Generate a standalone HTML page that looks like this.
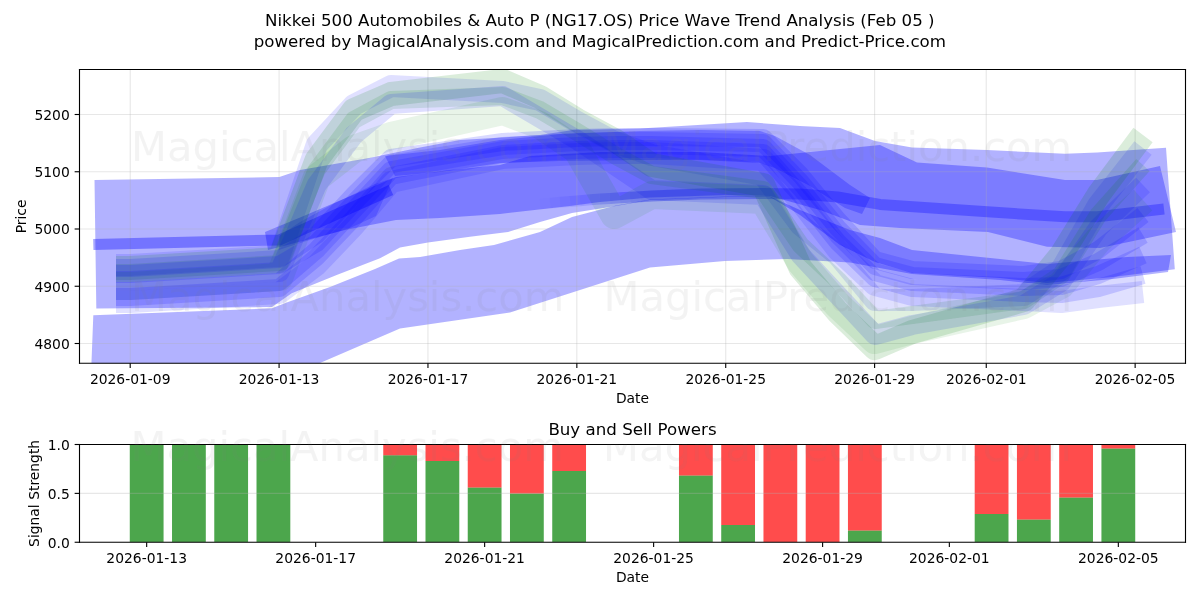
<!DOCTYPE html>
<html><head><meta charset="utf-8"><style>html,body{margin:0;padding:0;background:#fff;}svg{display:block;}</style></head><body>
<svg width="1200" height="600" viewBox="0 0 864 432" version="1.1">
<defs>
<style type="text/css">*{stroke-linejoin: round; stroke-linecap: butt}</style>
</defs>
<g id="figure_1">
<g id="patch_1">
<path d="M 0 432 
L 864 432 
L 864 0 
L 0 0 
z
" style="fill: #ffffff"/>
</g>
<g id="axes_1">
<g id="patch_2">
<path d="M 57.24 261.54 
L 853.56 261.54 
L 853.56 50.04 
L 57.24 50.04 
z
" style="fill: #ffffff"/>
</g>
<g id="patch_3">
<path d="M 68.040783 129.672 
L 201.168814 127.44 
L 216.000817 122.4 
L 265.680829 113.76 
L 302.400837 106.2 
L 331.200844 100.8 
L 388.800857 97.2 
L 412.560863 93.6 
L 460.800874 92.52 
L 537.840892 87.84 
L 576.000901 90.72 
L 604.800907 92.16 
L 630.000913 101.52 
L 656.640919 106.2 
L 710.640932 108 
L 766.800945 110.7 
L 789.84095 109.8 
L 839.520962 106.344 
L 845.856963 193.896 
L 801.360953 199.44 
L 753.840942 203.76 
L 720.000934 200.16 
L 656.640919 196.56 
L 630.000913 188.64 
L 604.800907 176.4 
L 576.000901 154.8 
L 554.400896 141.84 
L 522.000888 141.84 
L 468.000876 144 
L 443.52087 148.32 
L 411.840863 153.36 
L 388.800857 159.84 
L 365.760852 167.04 
L 338.400846 170.424 
L 308.160839 174.6 
L 288.000834 178.2 
L 273.600831 185.976 
L 242.424823 198 
L 210.024816 211.176 
L 195.840813 221.04 
L 69.336783 222.12 
z
" clip-path="url(#pc2d2b2b4d8)" style="fill: #0000ff; opacity: 0.3"/>
</g>
<g id="patch_4">
<path d="M 67.176783 227.016 
L 195.840813 221.976 
L 206.424815 217.8 
L 237.600822 206.64 
L 270.00083 193.68 
L 287.280834 186.12 
L 302.400837 185.04 
L 331.200844 180 
L 355.68085 176.4 
L 388.800857 167.04 
L 411.840863 156.24 
L 443.52087 147.96 
L 468.000876 143.64 
L 522.000888 141.48 
L 554.400896 141.48 
L 576.000901 151.2 
L 612.000909 165.6 
L 633.600914 171.36 
L 656.640919 180 
L 720.000934 186.48 
L 753.840942 190.08 
L 811.440955 185.04 
L 843.120962 183.6 
L 840.960962 195.84 
L 801.360953 200.88 
L 753.840942 205.2 
L 720.000934 201.6 
L 656.640919 197.28 
L 612.000909 189 
L 566.640898 186.48 
L 522.000888 187.92 
L 468.000876 192.6 
L 417.600864 208.8 
L 367.200852 225 
L 288.000834 236.52 
L 230.400821 261.36 
L 216.000817 273.6 
L 64.800782 288 
z
" clip-path="url(#pc2d2b2b4d8)" style="fill: #0000ff; opacity: 0.3"/>
</g>
<g id="patch_5">
<path d="M 190.800811 167.04 
L 220.320818 154.8 
L 259.200827 138.24 
L 285.120833 127.44 
L 324.000842 122.4 
L 360.000851 118.8 
L 381.600856 112.32 
L 432.000867 109.44 
L 504.000884 109.44 
L 554.400896 112.32 
L 597.600906 108 
L 633.600914 104.4 
L 660.24092 117 
L 710.640932 120.6 
L 766.800945 129.6 
L 789.84095 129.6 
L 835.200961 119.52 
L 846.720963 167.04 
L 792.000951 178.56 
L 753.840942 177.624 
L 711.360932 167.04 
L 648.000917 164.16 
L 619.200911 162 
L 590.400904 151.2 
L 554.400896 141.12 
L 522.000888 140.4 
L 468.000876 142.2 
L 432.000867 145.44 
L 410.400862 148.32 
L 360.000851 154.08 
L 316.800841 156.96 
L 285.120833 158.4 
L 248.400825 165.6 
L 192.960812 180 
z
" clip-path="url(#pc2d2b2b4d8)" style="fill: #0000ff; opacity: 0.3"/>
</g>
<g id="patch_6">
<path d="M 200.880814 169.92 
L 216.000817 159.84 
L 239.760823 146.88 
L 270.00083 132.48 
L 282.960833 128.16 
L 270.72083 155.52 
L 252.000826 164.16 
L 216.000817 174.96 
L 200.880814 180 
z
" clip-path="url(#pc2d2b2b4d8)" style="fill: #0000ff; opacity: 0.2"/>
</g>
<g id="patch_7">
<path d="M 277.200831 112.32 
L 316.800841 108 
L 360.000851 100.8 
L 403.200861 96.48 
L 460.800874 94.32 
L 504.000884 93.6 
L 547.200894 94.32 
L 558.000896 97.92 
L 583.200902 111.6 
L 612.000909 133.2 
L 626.400912 142.56 
L 620.640911 154.08 
L 608.400908 149.76 
L 583.200902 133.92 
L 558.000896 120.96 
L 547.200894 117.36 
L 504.000884 115.2 
L 460.800874 115.2 
L 403.200861 115.92 
L 360.000851 117.36 
L 316.800841 123.84 
L 284.400833 126.72 
z
" clip-path="url(#pc2d2b2b4d8)" style="fill: #0000ff; opacity: 0.25"/>
</g>
<g id="matplotlib.axis_1">
<g id="xtick_1">
<g id="line2d_1">
<path d="M 93.744789 261.54 
L 93.744789 50.04 
" clip-path="url(#pc2d2b2b4d8)" style="fill: none; stroke: #b0b0b0; stroke-opacity: 0.3; stroke-width: 0.8; stroke-linecap: square"/>
</g>
<g id="line2d_2">
<g>
<path d="M 0 0 L 0 3.5" transform="translate(93.744789 261.54)" style="stroke: #000000; stroke-width: 0.8"/>
</g>
</g>
<g id="text_1">
<text style="font-size: 10px; font-family: 'DejaVu Sans', 'Bitstream Vera Sans', 'Computer Modern Sans Serif', 'Lucida Grande', 'Verdana', 'Geneva', 'Lucid', 'Arial', 'Helvetica', 'Avant Garde', sans-serif; text-anchor: middle" x="93.744789" y="276.138438" transform="rotate(-0 93.744789 276.138438)">2026-01-09</text>
</g>
</g>
<g id="xtick_2">
<g id="line2d_3">
<path d="M 200.938414 261.54 
L 200.938414 50.04 
" clip-path="url(#pc2d2b2b4d8)" style="fill: none; stroke: #b0b0b0; stroke-opacity: 0.3; stroke-width: 0.8; stroke-linecap: square"/>
</g>
<g id="line2d_4">
<g>
<path d="M 0 0 L 0 3.5" transform="translate(200.938414 261.54)" style="stroke: #000000; stroke-width: 0.8"/>
</g>
</g>
<g id="text_2">
<text style="font-size: 10px; font-family: 'DejaVu Sans', 'Bitstream Vera Sans', 'Computer Modern Sans Serif', 'Lucida Grande', 'Verdana', 'Geneva', 'Lucid', 'Arial', 'Helvetica', 'Avant Garde', sans-serif; text-anchor: middle" x="200.938414" y="276.138438" transform="rotate(-0 200.938414 276.138438)">2026-01-13</text>
</g>
</g>
<g id="xtick_3">
<g id="line2d_5">
<path d="M 308.132039 261.54 
L 308.132039 50.04 
" clip-path="url(#pc2d2b2b4d8)" style="fill: none; stroke: #b0b0b0; stroke-opacity: 0.3; stroke-width: 0.8; stroke-linecap: square"/>
</g>
<g id="line2d_6">
<g>
<path d="M 0 0 L 0 3.5" transform="translate(308.132039 261.54)" style="stroke: #000000; stroke-width: 0.8"/>
</g>
</g>
<g id="text_3">
<text style="font-size: 10px; font-family: 'DejaVu Sans', 'Bitstream Vera Sans', 'Computer Modern Sans Serif', 'Lucida Grande', 'Verdana', 'Geneva', 'Lucid', 'Arial', 'Helvetica', 'Avant Garde', sans-serif; text-anchor: middle" x="308.132039" y="276.138438" transform="rotate(-0 308.132039 276.138438)">2026-01-17</text>
</g>
</g>
<g id="xtick_4">
<g id="line2d_7">
<path d="M 415.325663 261.54 
L 415.325663 50.04 
" clip-path="url(#pc2d2b2b4d8)" style="fill: none; stroke: #b0b0b0; stroke-opacity: 0.3; stroke-width: 0.8; stroke-linecap: square"/>
</g>
<g id="line2d_8">
<g>
<path d="M 0 0 L 0 3.5" transform="translate(415.325663 261.54)" style="stroke: #000000; stroke-width: 0.8"/>
</g>
</g>
<g id="text_4">
<text style="font-size: 10px; font-family: 'DejaVu Sans', 'Bitstream Vera Sans', 'Computer Modern Sans Serif', 'Lucida Grande', 'Verdana', 'Geneva', 'Lucid', 'Arial', 'Helvetica', 'Avant Garde', sans-serif; text-anchor: middle" x="415.325663" y="276.138438" transform="rotate(-0 415.325663 276.138438)">2026-01-21</text>
</g>
</g>
<g id="xtick_5">
<g id="line2d_9">
<path d="M 522.519288 261.54 
L 522.519288 50.04 
" clip-path="url(#pc2d2b2b4d8)" style="fill: none; stroke: #b0b0b0; stroke-opacity: 0.3; stroke-width: 0.8; stroke-linecap: square"/>
</g>
<g id="line2d_10">
<g>
<path d="M 0 0 L 0 3.5" transform="translate(522.519288 261.54)" style="stroke: #000000; stroke-width: 0.8"/>
</g>
</g>
<g id="text_5">
<text style="font-size: 10px; font-family: 'DejaVu Sans', 'Bitstream Vera Sans', 'Computer Modern Sans Serif', 'Lucida Grande', 'Verdana', 'Geneva', 'Lucid', 'Arial', 'Helvetica', 'Avant Garde', sans-serif; text-anchor: middle" x="522.519288" y="276.138438" transform="rotate(-0 522.519288 276.138438)">2026-01-25</text>
</g>
</g>
<g id="xtick_6">
<g id="line2d_11">
<path d="M 629.712913 261.54 
L 629.712913 50.04 
" clip-path="url(#pc2d2b2b4d8)" style="fill: none; stroke: #b0b0b0; stroke-opacity: 0.3; stroke-width: 0.8; stroke-linecap: square"/>
</g>
<g id="line2d_12">
<g>
<path d="M 0 0 L 0 3.5" transform="translate(629.712913 261.54)" style="stroke: #000000; stroke-width: 0.8"/>
</g>
</g>
<g id="text_6">
<text style="font-size: 10px; font-family: 'DejaVu Sans', 'Bitstream Vera Sans', 'Computer Modern Sans Serif', 'Lucida Grande', 'Verdana', 'Geneva', 'Lucid', 'Arial', 'Helvetica', 'Avant Garde', sans-serif; text-anchor: middle" x="629.712913" y="276.138438" transform="rotate(-0 629.712913 276.138438)">2026-01-29</text>
</g>
</g>
<g id="xtick_7">
<g id="line2d_13">
<path d="M 710.108132 261.54 
L 710.108132 50.04 
" clip-path="url(#pc2d2b2b4d8)" style="fill: none; stroke: #b0b0b0; stroke-opacity: 0.3; stroke-width: 0.8; stroke-linecap: square"/>
</g>
<g id="line2d_14">
<g>
<path d="M 0 0 L 0 3.5" transform="translate(710.108132 261.54)" style="stroke: #000000; stroke-width: 0.8"/>
</g>
</g>
<g id="text_7">
<text style="font-size: 10px; font-family: 'DejaVu Sans', 'Bitstream Vera Sans', 'Computer Modern Sans Serif', 'Lucida Grande', 'Verdana', 'Geneva', 'Lucid', 'Arial', 'Helvetica', 'Avant Garde', sans-serif; text-anchor: middle" x="710.108132" y="276.138438" transform="rotate(-0 710.108132 276.138438)">2026-02-01</text>
</g>
</g>
<g id="xtick_8">
<g id="line2d_15">
<path d="M 817.301756 261.54 
L 817.301756 50.04 
" clip-path="url(#pc2d2b2b4d8)" style="fill: none; stroke: #b0b0b0; stroke-opacity: 0.3; stroke-width: 0.8; stroke-linecap: square"/>
</g>
<g id="line2d_16">
<g>
<path d="M 0 0 L 0 3.5" transform="translate(817.301756 261.54)" style="stroke: #000000; stroke-width: 0.8"/>
</g>
</g>
<g id="text_8">
<text style="font-size: 10px; font-family: 'DejaVu Sans', 'Bitstream Vera Sans', 'Computer Modern Sans Serif', 'Lucida Grande', 'Verdana', 'Geneva', 'Lucid', 'Arial', 'Helvetica', 'Avant Garde', sans-serif; text-anchor: middle" x="817.301756" y="276.138438" transform="rotate(-0 817.301756 276.138438)">2026-02-05</text>
</g>
</g>
<g id="text_9">
<text style="font-size: 10px; font-family: 'DejaVu Sans', 'Bitstream Vera Sans', 'Computer Modern Sans Serif', 'Lucida Grande', 'Verdana', 'Geneva', 'Lucid', 'Arial', 'Helvetica', 'Avant Garde', sans-serif; text-anchor: middle" x="455.4" y="289.816563" transform="rotate(-0 455.4 289.816563)">Date</text>
</g>
</g>
<g id="matplotlib.axis_2">
<g id="ytick_1">
<g id="line2d_17">
<path d="M 57.24 247.32 
L 853.56 247.32 
" clip-path="url(#pc2d2b2b4d8)" style="fill: none; stroke: #b0b0b0; stroke-opacity: 0.3; stroke-width: 0.8; stroke-linecap: square"/>
</g>
<g id="line2d_18">
<g>
<path d="M 0 0 L -3.5 0" transform="translate(57.24 247.32)" style="stroke: #000000; stroke-width: 0.8"/>
</g>
</g>
<g id="text_10">
<text style="font-size: 10px; font-family: 'DejaVu Sans', 'Bitstream Vera Sans', 'Computer Modern Sans Serif', 'Lucida Grande', 'Verdana', 'Geneva', 'Lucid', 'Arial', 'Helvetica', 'Avant Garde', sans-serif; text-anchor: end" x="50.24" y="251.119219" transform="rotate(-0 50.24 251.119219)">4800</text>
</g>
</g>
<g id="ytick_2">
<g id="line2d_19">
<path d="M 57.24 206.1 
L 853.56 206.1 
" clip-path="url(#pc2d2b2b4d8)" style="fill: none; stroke: #b0b0b0; stroke-opacity: 0.3; stroke-width: 0.8; stroke-linecap: square"/>
</g>
<g id="line2d_20">
<g>
<path d="M 0 0 L -3.5 0" transform="translate(57.24 206.1)" style="stroke: #000000; stroke-width: 0.8"/>
</g>
</g>
<g id="text_11">
<text style="font-size: 10px; font-family: 'DejaVu Sans', 'Bitstream Vera Sans', 'Computer Modern Sans Serif', 'Lucida Grande', 'Verdana', 'Geneva', 'Lucid', 'Arial', 'Helvetica', 'Avant Garde', sans-serif; text-anchor: end" x="50.24" y="209.899219" transform="rotate(-0 50.24 209.899219)">4900</text>
</g>
</g>
<g id="ytick_3">
<g id="line2d_21">
<path d="M 57.24 164.88 
L 853.56 164.88 
" clip-path="url(#pc2d2b2b4d8)" style="fill: none; stroke: #b0b0b0; stroke-opacity: 0.3; stroke-width: 0.8; stroke-linecap: square"/>
</g>
<g id="line2d_22">
<g>
<path d="M 0 0 L -3.5 0" transform="translate(57.24 164.88)" style="stroke: #000000; stroke-width: 0.8"/>
</g>
</g>
<g id="text_12">
<text style="font-size: 10px; font-family: 'DejaVu Sans', 'Bitstream Vera Sans', 'Computer Modern Sans Serif', 'Lucida Grande', 'Verdana', 'Geneva', 'Lucid', 'Arial', 'Helvetica', 'Avant Garde', sans-serif; text-anchor: end" x="50.24" y="168.679219" transform="rotate(-0 50.24 168.679219)">5000</text>
</g>
</g>
<g id="ytick_4">
<g id="line2d_23">
<path d="M 57.24 123.66 
L 853.56 123.66 
" clip-path="url(#pc2d2b2b4d8)" style="fill: none; stroke: #b0b0b0; stroke-opacity: 0.3; stroke-width: 0.8; stroke-linecap: square"/>
</g>
<g id="line2d_24">
<g>
<path d="M 0 0 L -3.5 0" transform="translate(57.24 123.66)" style="stroke: #000000; stroke-width: 0.8"/>
</g>
</g>
<g id="text_13">
<text style="font-size: 10px; font-family: 'DejaVu Sans', 'Bitstream Vera Sans', 'Computer Modern Sans Serif', 'Lucida Grande', 'Verdana', 'Geneva', 'Lucid', 'Arial', 'Helvetica', 'Avant Garde', sans-serif; text-anchor: end" x="50.24" y="127.459219" transform="rotate(-0 50.24 127.459219)">5100</text>
</g>
</g>
<g id="ytick_5">
<g id="line2d_25">
<path d="M 57.24 82.44 
L 853.56 82.44 
" clip-path="url(#pc2d2b2b4d8)" style="fill: none; stroke: #b0b0b0; stroke-opacity: 0.3; stroke-width: 0.8; stroke-linecap: square"/>
</g>
<g id="line2d_26">
<g>
<path d="M 0 0 L -3.5 0" transform="translate(57.24 82.44)" style="stroke: #000000; stroke-width: 0.8"/>
</g>
</g>
<g id="text_14">
<text style="font-size: 10px; font-family: 'DejaVu Sans', 'Bitstream Vera Sans', 'Computer Modern Sans Serif', 'Lucida Grande', 'Verdana', 'Geneva', 'Lucid', 'Arial', 'Helvetica', 'Avant Garde', sans-serif; text-anchor: end" x="50.24" y="86.239219" transform="rotate(-0 50.24 86.239219)">5200</text>
</g>
</g>
<g id="text_15">
<text style="font-size: 10px; font-family: 'DejaVu Sans', 'Bitstream Vera Sans', 'Computer Modern Sans Serif', 'Lucida Grande', 'Verdana', 'Geneva', 'Lucid', 'Arial', 'Helvetica', 'Avant Garde', sans-serif; text-anchor: middle" x="18.710313" y="155.79" transform="rotate(-90 18.710313 155.79)">Price</text>
</g>
</g>
<g id="line2d_27">
<path d="M 67.176783 176.04 
L 201.168814 172.8 
L 241.200823 154.8 
L 281.520832 136.8 
" clip-path="url(#pc2d2b2b4d8)" style="fill: none; stroke: #0000ff; stroke-opacity: 0.35; stroke-width: 7.92"/>
</g>
<g id="line2d_28">
<path d="M 388.800857 146.88 
L 396.000859 146.28 
" clip-path="url(#pc2d2b2b4d8)" style="fill: none; stroke: #0000ff; stroke-opacity: 0.015; stroke-width: 7.92"/>
</g>
<g id="line2d_29">
<path d="M 396.000859 146.28 
L 403.200861 145.68 
" clip-path="url(#pc2d2b2b4d8)" style="fill: none; stroke: #0000ff; stroke-opacity: 0.045; stroke-width: 7.92"/>
</g>
<g id="line2d_30">
<path d="M 403.200861 145.68 
L 410.400862 145.08 
" clip-path="url(#pc2d2b2b4d8)" style="fill: none; stroke: #0000ff; stroke-opacity: 0.075; stroke-width: 7.92"/>
</g>
<g id="line2d_31">
<path d="M 410.400862 145.08 
L 417.600864 144.48 
" clip-path="url(#pc2d2b2b4d8)" style="fill: none; stroke: #0000ff; stroke-opacity: 0.105; stroke-width: 7.92"/>
</g>
<g id="line2d_32">
<path d="M 417.600864 144.48 
L 424.800866 143.88 
" clip-path="url(#pc2d2b2b4d8)" style="fill: none; stroke: #0000ff; stroke-opacity: 0.135; stroke-width: 7.92"/>
</g>
<g id="line2d_33">
<path d="M 424.800866 143.88 
L 432.000867 143.28 
" clip-path="url(#pc2d2b2b4d8)" style="fill: none; stroke: #0000ff; stroke-opacity: 0.165; stroke-width: 7.92"/>
</g>
<g id="line2d_34">
<path d="M 432.000867 143.28 
L 439.200869 142.861395 
" clip-path="url(#pc2d2b2b4d8)" style="fill: none; stroke: #0000ff; stroke-opacity: 0.195; stroke-width: 7.92"/>
</g>
<g id="line2d_35">
<path d="M 439.200869 142.861395 
L 446.400871 142.442791 
" clip-path="url(#pc2d2b2b4d8)" style="fill: none; stroke: #0000ff; stroke-opacity: 0.225; stroke-width: 7.92"/>
</g>
<g id="line2d_36">
<path d="M 446.400871 142.442791 
L 453.600872 142.024186 
" clip-path="url(#pc2d2b2b4d8)" style="fill: none; stroke: #0000ff; stroke-opacity: 0.255; stroke-width: 7.92"/>
</g>
<g id="line2d_37">
<path d="M 453.600872 142.024186 
L 460.800874 141.605581 
" clip-path="url(#pc2d2b2b4d8)" style="fill: none; stroke: #0000ff; stroke-opacity: 0.285; stroke-width: 7.92"/>
</g>
<g id="line2d_38">
<path d="M 460.800874 141.605581 
L 469.152876 141.12 
L 504.000884 139.68 
L 549.360894 139.32 
L 576.000901 139.68 
L 603.144907 141.84 
L 633.600914 147.168 
L 711.000932 152.496 
L 766.800945 156.096 
L 790.20095 156.096 
L 838.080961 150.48 
" clip-path="url(#pc2d2b2b4d8)" style="fill: none; stroke: #0000ff; stroke-opacity: 0.3; stroke-width: 7.92"/>
</g>
<g id="line2d_39">
<path d="M 83.520787 190.8 
L 93.960789 190.8 
L 201.161614 184.32 
L 227.96002 104.4 
L 254.758426 75.6 
L 281.556832 61.92 
L 361.959251 66.24 
L 388.757657 72 
L 415.556063 87.84 
L 442.35447 102.24 
L 469.160076 111.6 
L 549.555294 126 
L 576.353701 162 
L 603.159307 183.6 
L 629.957713 216 
L 656.756119 216 
L 737.158538 212.4 
L 763.956944 194.4 
L 790.75535 147.6 
L 822.960958 106.56 
" clip-path="url(#pc2d2b2b4d8)" style="fill: none; stroke: #0000ff; stroke-opacity: 0.12; stroke-width: 15.84"/>
</g>
<g id="line2d_40">
<path d="M 83.520787 192.96 
L 93.960789 192.96 
L 201.161614 186.48 
L 227.96002 115.2 
L 254.758426 79.2 
L 281.556832 67.68 
L 361.959251 58.32 
L 388.757657 69.84 
L 415.556063 86.4 
L 442.35447 100.8 
L 469.160076 118.8 
L 549.555294 133.2 
L 576.353701 192.96 
L 603.159307 224.64 
L 629.957713 250.56 
L 656.756119 239.04 
L 737.158538 216 
L 763.956944 183.6 
L 790.75535 140.4 
L 822.960958 97.2 
" clip-path="url(#pc2d2b2b4d8)" style="fill: none; stroke: #008000; stroke-opacity: 0.14; stroke-width: 17.28"/>
</g>
<g id="line2d_41">
<path d="M 83.520787 196.56 
L 93.960789 196.56 
L 201.161614 190.08 
L 227.96002 122.4 
L 254.758426 86.4 
L 281.556832 72 
L 361.959251 69.12 
L 388.757657 79.2 
L 415.556063 95.04 
L 442.35447 111.6 
L 469.160076 126 
L 549.555294 136.8 
L 576.353701 176.4 
L 603.159307 201.6 
L 629.957713 230.4 
L 656.756119 226.8 
L 737.158538 216 
L 763.956944 198 
L 790.75535 154.8 
L 822.960958 118.8 
" clip-path="url(#pc2d2b2b4d8)" style="fill: none; stroke: #008000; stroke-opacity: 0.12; stroke-width: 12.96"/>
</g>
<g id="line2d_42">
<path d="M 83.520787 202.32 
L 93.960789 202.32 
L 201.161614 195.84 
L 227.96002 133.2 
L 254.758426 97.2 
L 281.556832 74.88 
L 361.959251 69.12 
L 388.757657 84.96 
L 415.556063 100.8 
L 442.35447 118.8 
L 469.160076 136.8 
L 549.555294 140.4 
L 576.353701 183.6 
L 603.159307 212.4 
L 629.957713 241.2 
L 656.756119 234 
L 737.158538 219.6 
L 763.956944 203.04 
L 790.75535 164.16 
L 822.960958 133.2 
" clip-path="url(#pc2d2b2b4d8)" style="fill: none; stroke: #0000ff; stroke-opacity: 0.13; stroke-width: 14.4"/>
</g>
<g id="line2d_43">
<path d="M 83.520787 205.92 
L 93.960789 205.92 
L 201.161614 199.44 
L 227.96002 128.16 
L 254.758426 107.28 
L 281.556832 97.92 
L 361.959251 79.92 
L 388.757657 90 
L 415.556063 108 
L 442.35447 154.8 
L 469.160076 140.4 
L 549.555294 144 
L 576.353701 188.64 
L 603.159307 219.6 
L 629.957713 244.8 
L 656.756119 237.6 
L 737.158538 219.6 
L 763.956944 205.2 
L 790.75535 172.8 
L 822.960958 144 
" clip-path="url(#pc2d2b2b4d8)" style="fill: none; stroke: #008000; stroke-opacity: 0.09; stroke-width: 20.16"/>
</g>
<g id="line2d_44">
<path d="M 83.520787 192.96 
L 93.960789 192.96 
L 201.161614 186.48 
L 227.96002 169.2 
L 254.758426 140.4 
L 281.556832 113.76 
L 361.959251 102.24 
L 388.757657 100.8 
L 415.556063 99.36 
L 442.35447 98.64 
L 469.160076 98.64 
L 549.555294 99.36 
L 576.353701 126 
L 603.159307 158.4 
L 629.957713 187.2 
L 656.756119 194.4 
L 737.158538 198 
L 763.956944 194.4 
L 790.75535 180 
L 822.960958 154.8 
" clip-path="url(#pc2d2b2b4d8)" style="fill: none; stroke: #0000ff; stroke-opacity: 0.15; stroke-width: 12.96"/>
</g>
<g id="line2d_45">
<path d="M 83.520787 197.28 
L 93.960789 197.28 
L 201.161614 190.8 
L 227.96002 174.96 
L 254.758426 146.16 
L 281.556832 118.08 
L 361.959251 105.12 
L 388.757657 103.68 
L 415.556063 102.24 
L 442.35447 101.52 
L 469.160076 101.52 
L 549.555294 102.96 
L 576.353701 131.04 
L 603.159307 164.16 
L 629.957713 191.52 
L 656.756119 198.72 
L 737.158538 202.32 
L 763.956944 200.16 
L 790.75535 188.64 
L 822.960958 169.2 
" clip-path="url(#pc2d2b2b4d8)" style="fill: none; stroke: #0000ff; stroke-opacity: 0.15; stroke-width: 12.96"/>
</g>
<g id="line2d_46">
<path d="M 83.520787 209.52 
L 93.960789 209.52 
L 201.161614 203.04 
L 227.96002 180 
L 254.758426 151.2 
L 281.556832 122.4 
L 361.959251 108 
L 388.757657 106.56 
L 415.556063 105.12 
L 442.35447 104.4 
L 469.160076 104.4 
L 549.555294 106.56 
L 576.353701 135.36 
L 603.159307 169.2 
L 629.957713 195.84 
L 656.756119 203.04 
L 737.158538 206.64 
L 763.956944 205.92 
L 790.75535 198 
L 822.960958 183.6 
" clip-path="url(#pc2d2b2b4d8)" style="fill: none; stroke: #0000ff; stroke-opacity: 0.15; stroke-width: 12.96"/>
</g>
<g id="line2d_47">
<path d="M 83.520787 213.84 
L 93.960789 213.84 
L 201.161614 207.36 
L 227.96002 185.04 
L 254.758426 156.96 
L 281.556832 126.72 
L 361.959251 110.88 
L 388.757657 109.44 
L 415.556063 108 
L 442.35447 107.28 
L 469.160076 107.28 
L 549.555294 110.16 
L 576.353701 140.4 
L 603.159307 174.24 
L 629.957713 200.16 
L 656.756119 207.36 
L 737.158538 210.96 
L 763.956944 211.68 
L 790.75535 207.36 
L 822.960958 198 
" clip-path="url(#pc2d2b2b4d8)" style="fill: none; stroke: #0000ff; stroke-opacity: 0.15; stroke-width: 12.96"/>
</g>
<g id="line2d_48">
<path d="M 83.520787 217.44 
L 93.960789 217.44 
L 201.161614 210.96 
L 227.96002 190.8 
L 254.758426 162.72 
L 281.556832 131.04 
L 361.959251 113.76 
L 388.757657 112.32 
L 415.556063 110.88 
L 442.35447 110.16 
L 469.160076 110.16 
L 549.555294 115.2 
L 576.353701 145.44 
L 603.159307 180 
L 629.957713 205.2 
L 656.756119 212.4 
L 737.158538 216 
L 763.956944 217.44 
L 790.75535 213.84 
L 822.960958 210.24 
" clip-path="url(#pc2d2b2b4d8)" style="fill: none; stroke: #0000ff; stroke-opacity: 0.12; stroke-width: 15.84"/>
</g>
<g id="patch_8">
<path d="M 57.24 261.54 
L 57.24 50.04 
" style="fill: none; stroke: #000000; stroke-width: 0.8; stroke-linejoin: miter; stroke-linecap: square"/>
</g>
<g id="patch_9">
<path d="M 853.56 261.54 
L 853.56 50.04 
" style="fill: none; stroke: #000000; stroke-width: 0.8; stroke-linejoin: miter; stroke-linecap: square"/>
</g>
<g id="patch_10">
<path d="M 57.24 261.54 
L 853.56 261.54 
" style="fill: none; stroke: #000000; stroke-width: 0.8; stroke-linejoin: miter; stroke-linecap: square"/>
</g>
<g id="patch_11">
<path d="M 57.24 50.04 
L 853.56 50.04 
" style="fill: none; stroke: #000000; stroke-width: 0.8; stroke-linejoin: miter; stroke-linecap: square"/>
</g>
</g>
<g id="axes_2">
<g id="patch_12">
<path d="M 57.24 390.42 
L 853.56 390.42 
L 853.56 320.04 
L 57.24 320.04 
z
" style="fill: #ffffff"/>
</g>
<g id="patch_13">
<path d="M 93.436364 390.42 
L 117.770053 390.42 
L 117.770053 320.04 
L 93.436364 320.04 
z
" clip-path="url(#pe0ad8a3c0b)" style="fill: #008000; opacity: 0.7"/>
</g>
<g id="patch_14">
<path d="M 123.853476 390.42 
L 148.187166 390.42 
L 148.187166 320.04 
L 123.853476 320.04 
z
" clip-path="url(#pe0ad8a3c0b)" style="fill: #008000; opacity: 0.7"/>
</g>
<g id="patch_15">
<path d="M 154.270588 390.42 
L 178.604278 390.42 
L 178.604278 320.04 
L 154.270588 320.04 
z
" clip-path="url(#pe0ad8a3c0b)" style="fill: #008000; opacity: 0.7"/>
</g>
<g id="patch_16">
<path d="M 184.687701 390.42 
L 209.02139 390.42 
L 209.02139 320.04 
L 184.687701 320.04 
z
" clip-path="url(#pe0ad8a3c0b)" style="fill: #008000; opacity: 0.7"/>
</g>
<g id="patch_17">
<path d="M 275.939037 390.42 
L 300.272727 390.42 
L 300.272727 327.7818 
L 275.939037 327.7818 
z
" clip-path="url(#pe0ad8a3c0b)" style="fill: #008000; opacity: 0.7"/>
</g>
<g id="patch_18">
<path d="M 306.35615 390.42 
L 330.68984 390.42 
L 330.68984 332.0046 
L 306.35615 332.0046 
z
" clip-path="url(#pe0ad8a3c0b)" style="fill: #008000; opacity: 0.7"/>
</g>
<g id="patch_19">
<path d="M 336.773262 390.42 
L 361.106952 390.42 
L 361.106952 351.0072 
L 336.773262 351.0072 
z
" clip-path="url(#pe0ad8a3c0b)" style="fill: #008000; opacity: 0.7"/>
</g>
<g id="patch_20">
<path d="M 367.190374 390.42 
L 391.524064 390.42 
L 391.524064 355.23 
L 367.190374 355.23 
z
" clip-path="url(#pe0ad8a3c0b)" style="fill: #008000; opacity: 0.7"/>
</g>
<g id="patch_21">
<path d="M 397.607487 390.42 
L 421.941176 390.42 
L 421.941176 339.0426 
L 397.607487 339.0426 
z
" clip-path="url(#pe0ad8a3c0b)" style="fill: #008000; opacity: 0.7"/>
</g>
<g id="patch_22">
<path d="M 488.858824 390.42 
L 513.192513 390.42 
L 513.192513 342.35046 
L 488.858824 342.35046 
z
" clip-path="url(#pe0ad8a3c0b)" style="fill: #008000; opacity: 0.7"/>
</g>
<g id="patch_23">
<path d="M 519.275936 390.42 
L 543.609626 390.42 
L 543.609626 378.03312 
L 519.275936 378.03312 
z
" clip-path="url(#pe0ad8a3c0b)" style="fill: #008000; opacity: 0.7"/>
</g>
<g id="patch_24">
<path d="M 549.693048 390.42 
L 574.026738 390.42 
L 574.026738 390.42 
L 549.693048 390.42 
z
" clip-path="url(#pe0ad8a3c0b)" style="fill: #008000; opacity: 0.7"/>
</g>
<g id="patch_25">
<path d="M 580.11016 390.42 
L 604.44385 390.42 
L 604.44385 390.42 
L 580.11016 390.42 
z
" clip-path="url(#pe0ad8a3c0b)" style="fill: #008000; opacity: 0.7"/>
</g>
<g id="patch_26">
<path d="M 610.527273 390.42 
L 634.860963 390.42 
L 634.860963 381.9744 
L 610.527273 381.9744 
z
" clip-path="url(#pe0ad8a3c0b)" style="fill: #008000; opacity: 0.7"/>
</g>
<g id="patch_27">
<path d="M 701.77861 390.42 
L 726.112299 390.42 
L 726.112299 370.08018 
L 701.77861 370.08018 
z
" clip-path="url(#pe0ad8a3c0b)" style="fill: #008000; opacity: 0.7"/>
</g>
<g id="patch_28">
<path d="M 732.195722 390.42 
L 756.529412 390.42 
L 756.529412 374.02146 
L 732.195722 374.02146 
z
" clip-path="url(#pe0ad8a3c0b)" style="fill: #008000; opacity: 0.7"/>
</g>
<g id="patch_29">
<path d="M 762.612834 390.42 
L 786.946524 390.42 
L 786.946524 358.18596 
L 762.612834 358.18596 
z
" clip-path="url(#pe0ad8a3c0b)" style="fill: #008000; opacity: 0.7"/>
</g>
<g id="patch_30">
<path d="M 793.029947 390.42 
L 817.363636 390.42 
L 817.363636 322.92558 
L 793.029947 322.92558 
z
" clip-path="url(#pe0ad8a3c0b)" style="fill: #008000; opacity: 0.7"/>
</g>
<g id="patch_31">
<path d="M 93.436364 320.04 
L 117.770053 320.04 
L 117.770053 320.04 
L 93.436364 320.04 
z
" clip-path="url(#pe0ad8a3c0b)" style="fill: #ff0000; opacity: 0.7"/>
</g>
<g id="patch_32">
<path d="M 123.853476 320.04 
L 148.187166 320.04 
L 148.187166 320.04 
L 123.853476 320.04 
z
" clip-path="url(#pe0ad8a3c0b)" style="fill: #ff0000; opacity: 0.7"/>
</g>
<g id="patch_33">
<path d="M 154.270588 320.04 
L 178.604278 320.04 
L 178.604278 320.04 
L 154.270588 320.04 
z
" clip-path="url(#pe0ad8a3c0b)" style="fill: #ff0000; opacity: 0.7"/>
</g>
<g id="patch_34">
<path d="M 184.687701 320.04 
L 209.02139 320.04 
L 209.02139 320.04 
L 184.687701 320.04 
z
" clip-path="url(#pe0ad8a3c0b)" style="fill: #ff0000; opacity: 0.7"/>
</g>
<g id="patch_35">
<path d="M 275.939037 327.7818 
L 300.272727 327.7818 
L 300.272727 320.04 
L 275.939037 320.04 
z
" clip-path="url(#pe0ad8a3c0b)" style="fill: #ff0000; opacity: 0.7"/>
</g>
<g id="patch_36">
<path d="M 306.35615 332.0046 
L 330.68984 332.0046 
L 330.68984 320.04 
L 306.35615 320.04 
z
" clip-path="url(#pe0ad8a3c0b)" style="fill: #ff0000; opacity: 0.7"/>
</g>
<g id="patch_37">
<path d="M 336.773262 351.0072 
L 361.106952 351.0072 
L 361.106952 320.04 
L 336.773262 320.04 
z
" clip-path="url(#pe0ad8a3c0b)" style="fill: #ff0000; opacity: 0.7"/>
</g>
<g id="patch_38">
<path d="M 367.190374 355.23 
L 391.524064 355.23 
L 391.524064 320.04 
L 367.190374 320.04 
z
" clip-path="url(#pe0ad8a3c0b)" style="fill: #ff0000; opacity: 0.7"/>
</g>
<g id="patch_39">
<path d="M 397.607487 339.0426 
L 421.941176 339.0426 
L 421.941176 320.04 
L 397.607487 320.04 
z
" clip-path="url(#pe0ad8a3c0b)" style="fill: #ff0000; opacity: 0.7"/>
</g>
<g id="patch_40">
<path d="M 488.858824 342.35046 
L 513.192513 342.35046 
L 513.192513 320.04 
L 488.858824 320.04 
z
" clip-path="url(#pe0ad8a3c0b)" style="fill: #ff0000; opacity: 0.7"/>
</g>
<g id="patch_41">
<path d="M 519.275936 378.03312 
L 543.609626 378.03312 
L 543.609626 320.04 
L 519.275936 320.04 
z
" clip-path="url(#pe0ad8a3c0b)" style="fill: #ff0000; opacity: 0.7"/>
</g>
<g id="patch_42">
<path d="M 549.693048 390.42 
L 574.026738 390.42 
L 574.026738 320.04 
L 549.693048 320.04 
z
" clip-path="url(#pe0ad8a3c0b)" style="fill: #ff0000; opacity: 0.7"/>
</g>
<g id="patch_43">
<path d="M 580.11016 390.42 
L 604.44385 390.42 
L 604.44385 320.04 
L 580.11016 320.04 
z
" clip-path="url(#pe0ad8a3c0b)" style="fill: #ff0000; opacity: 0.7"/>
</g>
<g id="patch_44">
<path d="M 610.527273 381.9744 
L 634.860963 381.9744 
L 634.860963 320.04 
L 610.527273 320.04 
z
" clip-path="url(#pe0ad8a3c0b)" style="fill: #ff0000; opacity: 0.7"/>
</g>
<g id="patch_45">
<path d="M 701.77861 370.08018 
L 726.112299 370.08018 
L 726.112299 320.04 
L 701.77861 320.04 
z
" clip-path="url(#pe0ad8a3c0b)" style="fill: #ff0000; opacity: 0.7"/>
</g>
<g id="patch_46">
<path d="M 732.195722 374.02146 
L 756.529412 374.02146 
L 756.529412 320.04 
L 732.195722 320.04 
z
" clip-path="url(#pe0ad8a3c0b)" style="fill: #ff0000; opacity: 0.7"/>
</g>
<g id="patch_47">
<path d="M 762.612834 358.18596 
L 786.946524 358.18596 
L 786.946524 320.04 
L 762.612834 320.04 
z
" clip-path="url(#pe0ad8a3c0b)" style="fill: #ff0000; opacity: 0.7"/>
</g>
<g id="patch_48">
<path d="M 793.029947 322.92558 
L 817.363636 322.92558 
L 817.363636 320.04 
L 793.029947 320.04 
z
" clip-path="url(#pe0ad8a3c0b)" style="fill: #ff0000; opacity: 0.7"/>
</g>
<g id="matplotlib.axis_3">
<g id="xtick_9">
<g id="line2d_49">
<g>
<path d="M 0 0 L 0 3.5" transform="translate(105.603209 390.42)" style="stroke: #000000; stroke-width: 0.8"/>
</g>
</g>
<g id="text_16">
<text style="font-size: 10px; font-family: 'DejaVu Sans', 'Bitstream Vera Sans', 'Computer Modern Sans Serif', 'Lucida Grande', 'Verdana', 'Geneva', 'Lucid', 'Arial', 'Helvetica', 'Avant Garde', sans-serif; text-anchor: middle" x="105.603209" y="405.018438" transform="rotate(-0 105.603209 405.018438)">2026-01-13</text>
</g>
</g>
<g id="xtick_10">
<g id="line2d_50">
<g>
<path d="M 0 0 L 0 3.5" transform="translate(227.271658 390.42)" style="stroke: #000000; stroke-width: 0.8"/>
</g>
</g>
<g id="text_17">
<text style="font-size: 10px; font-family: 'DejaVu Sans', 'Bitstream Vera Sans', 'Computer Modern Sans Serif', 'Lucida Grande', 'Verdana', 'Geneva', 'Lucid', 'Arial', 'Helvetica', 'Avant Garde', sans-serif; text-anchor: middle" x="227.271658" y="405.018438" transform="rotate(-0 227.271658 405.018438)">2026-01-17</text>
</g>
</g>
<g id="xtick_11">
<g id="line2d_51">
<g>
<path d="M 0 0 L 0 3.5" transform="translate(348.940107 390.42)" style="stroke: #000000; stroke-width: 0.8"/>
</g>
</g>
<g id="text_18">
<text style="font-size: 10px; font-family: 'DejaVu Sans', 'Bitstream Vera Sans', 'Computer Modern Sans Serif', 'Lucida Grande', 'Verdana', 'Geneva', 'Lucid', 'Arial', 'Helvetica', 'Avant Garde', sans-serif; text-anchor: middle" x="348.940107" y="405.018438" transform="rotate(-0 348.940107 405.018438)">2026-01-21</text>
</g>
</g>
<g id="xtick_12">
<g id="line2d_52">
<g>
<path d="M 0 0 L 0 3.5" transform="translate(470.608556 390.42)" style="stroke: #000000; stroke-width: 0.8"/>
</g>
</g>
<g id="text_19">
<text style="font-size: 10px; font-family: 'DejaVu Sans', 'Bitstream Vera Sans', 'Computer Modern Sans Serif', 'Lucida Grande', 'Verdana', 'Geneva', 'Lucid', 'Arial', 'Helvetica', 'Avant Garde', sans-serif; text-anchor: middle" x="470.608556" y="405.018438" transform="rotate(-0 470.608556 405.018438)">2026-01-25</text>
</g>
</g>
<g id="xtick_13">
<g id="line2d_53">
<g>
<path d="M 0 0 L 0 3.5" transform="translate(592.277005 390.42)" style="stroke: #000000; stroke-width: 0.8"/>
</g>
</g>
<g id="text_20">
<text style="font-size: 10px; font-family: 'DejaVu Sans', 'Bitstream Vera Sans', 'Computer Modern Sans Serif', 'Lucida Grande', 'Verdana', 'Geneva', 'Lucid', 'Arial', 'Helvetica', 'Avant Garde', sans-serif; text-anchor: middle" x="592.277005" y="405.018438" transform="rotate(-0 592.277005 405.018438)">2026-01-29</text>
</g>
</g>
<g id="xtick_14">
<g id="line2d_54">
<g>
<path d="M 0 0 L 0 3.5" transform="translate(683.528342 390.42)" style="stroke: #000000; stroke-width: 0.8"/>
</g>
</g>
<g id="text_21">
<text style="font-size: 10px; font-family: 'DejaVu Sans', 'Bitstream Vera Sans', 'Computer Modern Sans Serif', 'Lucida Grande', 'Verdana', 'Geneva', 'Lucid', 'Arial', 'Helvetica', 'Avant Garde', sans-serif; text-anchor: middle" x="683.528342" y="405.018438" transform="rotate(-0 683.528342 405.018438)">2026-02-01</text>
</g>
</g>
<g id="xtick_15">
<g id="line2d_55">
<g>
<path d="M 0 0 L 0 3.5" transform="translate(805.196791 390.42)" style="stroke: #000000; stroke-width: 0.8"/>
</g>
</g>
<g id="text_22">
<text style="font-size: 10px; font-family: 'DejaVu Sans', 'Bitstream Vera Sans', 'Computer Modern Sans Serif', 'Lucida Grande', 'Verdana', 'Geneva', 'Lucid', 'Arial', 'Helvetica', 'Avant Garde', sans-serif; text-anchor: middle" x="805.196791" y="405.018438" transform="rotate(-0 805.196791 405.018438)">2026-02-05</text>
</g>
</g>
<g id="text_23">
<text style="font-size: 10px; font-family: 'DejaVu Sans', 'Bitstream Vera Sans', 'Computer Modern Sans Serif', 'Lucida Grande', 'Verdana', 'Geneva', 'Lucid', 'Arial', 'Helvetica', 'Avant Garde', sans-serif; text-anchor: middle" x="455.4" y="418.696563" transform="rotate(-0 455.4 418.696563)">Date</text>
</g>
</g>
<g id="matplotlib.axis_4">
<g id="ytick_6">
<g id="line2d_56">
<path d="M 57.24 390.42 
L 853.56 390.42 
" clip-path="url(#pe0ad8a3c0b)" style="fill: none; stroke: #b0b0b0; stroke-opacity: 0.3; stroke-width: 0.8; stroke-linecap: square"/>
</g>
<g id="line2d_57">
<g>
<path d="M 0 0 L -3.5 0" transform="translate(57.24 390.42)" style="stroke: #000000; stroke-width: 0.8"/>
</g>
</g>
<g id="text_24">
<text style="font-size: 10px; font-family: 'DejaVu Sans', 'Bitstream Vera Sans', 'Computer Modern Sans Serif', 'Lucida Grande', 'Verdana', 'Geneva', 'Lucid', 'Arial', 'Helvetica', 'Avant Garde', sans-serif; text-anchor: end" x="50.24" y="394.219219" transform="rotate(-0 50.24 394.219219)">0.0</text>
</g>
</g>
<g id="ytick_7">
<g id="line2d_58">
<path d="M 57.24 355.23 
L 853.56 355.23 
" clip-path="url(#pe0ad8a3c0b)" style="fill: none; stroke: #b0b0b0; stroke-opacity: 0.3; stroke-width: 0.8; stroke-linecap: square"/>
</g>
<g id="line2d_59">
<g>
<path d="M 0 0 L -3.5 0" transform="translate(57.24 355.23)" style="stroke: #000000; stroke-width: 0.8"/>
</g>
</g>
<g id="text_25">
<text style="font-size: 10px; font-family: 'DejaVu Sans', 'Bitstream Vera Sans', 'Computer Modern Sans Serif', 'Lucida Grande', 'Verdana', 'Geneva', 'Lucid', 'Arial', 'Helvetica', 'Avant Garde', sans-serif; text-anchor: end" x="50.24" y="359.029219" transform="rotate(-0 50.24 359.029219)">0.5</text>
</g>
</g>
<g id="ytick_8">
<g id="line2d_60">
<path d="M 57.24 320.04 
L 853.56 320.04 
" clip-path="url(#pe0ad8a3c0b)" style="fill: none; stroke: #b0b0b0; stroke-opacity: 0.3; stroke-width: 0.8; stroke-linecap: square"/>
</g>
<g id="line2d_61">
<g>
<path d="M 0 0 L -3.5 0" transform="translate(57.24 320.04)" style="stroke: #000000; stroke-width: 0.8"/>
</g>
</g>
<g id="text_26">
<text style="font-size: 10px; font-family: 'DejaVu Sans', 'Bitstream Vera Sans', 'Computer Modern Sans Serif', 'Lucida Grande', 'Verdana', 'Geneva', 'Lucid', 'Arial', 'Helvetica', 'Avant Garde', sans-serif; text-anchor: end" x="50.24" y="323.839219" transform="rotate(-0 50.24 323.839219)">1.0</text>
</g>
</g>
<g id="text_27">
<text style="font-size: 10px; font-family: 'DejaVu Sans', 'Bitstream Vera Sans', 'Computer Modern Sans Serif', 'Lucida Grande', 'Verdana', 'Geneva', 'Lucid', 'Arial', 'Helvetica', 'Avant Garde', sans-serif; text-anchor: middle" x="28.257188" y="355.23" transform="rotate(-90 28.257188 355.23)">Signal Strength</text>
</g>
</g>
<g id="patch_49">
<path d="M 57.24 390.42 
L 57.24 320.04 
" style="fill: none; stroke: #000000; stroke-width: 0.8; stroke-linejoin: miter; stroke-linecap: square"/>
</g>
<g id="patch_50">
<path d="M 853.56 390.42 
L 853.56 320.04 
" style="fill: none; stroke: #000000; stroke-width: 0.8; stroke-linejoin: miter; stroke-linecap: square"/>
</g>
<g id="patch_51">
<path d="M 57.24 390.42 
L 853.56 390.42 
" style="fill: none; stroke: #000000; stroke-width: 0.8; stroke-linejoin: miter; stroke-linecap: square"/>
</g>
<g id="patch_52">
<path d="M 57.24 320.04 
L 853.56 320.04 
" style="fill: none; stroke: #000000; stroke-width: 0.8; stroke-linejoin: miter; stroke-linecap: square"/>
</g>
<g id="text_28">
<g clip-path="url(#pe0ad8a3c0b)">
<text style="font-size: 30px; font-family: 'DejaVu Sans', 'Bitstream Vera Sans', 'Computer Modern Sans Serif', 'Lucida Grande', 'Verdana', 'Geneva', 'Lucid', 'Arial', 'Helvetica', 'Avant Garde', sans-serif; text-anchor: start; fill: #808080; opacity: 0.085" x="434.16" y="332.278125" transform="rotate(-0 434.16 332.278125)">MagicalPrediction.com</text>
</g>
</g>
<g id="text_29">
<text style="font-size: 12px; font-family: 'DejaVu Sans', 'Bitstream Vera Sans', 'Computer Modern Sans Serif', 'Lucida Grande', 'Verdana', 'Geneva', 'Lucid', 'Arial', 'Helvetica', 'Avant Garde', sans-serif; text-anchor: middle" x="455.4" y="312.96" transform="rotate(-0 455.4 312.96)">Buy and Sell Powers</text>
</g>
</g>
<g id="text_30">
<text style="font-size: 12px; font-family: 'DejaVu Sans', 'Bitstream Vera Sans', 'Computer Modern Sans Serif', 'Lucida Grande', 'Verdana', 'Geneva', 'Lucid', 'Arial', 'Helvetica', 'Avant Garde', sans-serif" transform="translate(190.804688 18.550125)">Nikkei 500 Automobiles &amp; Auto P (NG17.OS) Price Wave Trend Analysis (Feb 05 )</text>
<text style="font-size: 12px; font-family: 'DejaVu Sans', 'Bitstream Vera Sans', 'Computer Modern Sans Serif', 'Lucida Grande', 'Verdana', 'Geneva', 'Lucid', 'Arial', 'Helvetica', 'Avant Garde', sans-serif" transform="translate(182.610938 33.931500)">powered by MagicalAnalysis.com and MagicalPrediction.com and Predict-Price.com</text>
</g>
<g id="text_31">
<text style="font-size: 30px; font-family: 'DejaVu Sans', 'Bitstream Vera Sans', 'Computer Modern Sans Serif', 'Lucida Grande', 'Verdana', 'Geneva', 'Lucid', 'Arial', 'Helvetica', 'Avant Garde', sans-serif; text-anchor: start; fill: #808080; opacity: 0.085" x="94.32" y="116.278125" transform="rotate(-0 94.32 116.278125)">MagicalAnalysis.com</text>
</g>
<g id="text_32">
<text style="font-size: 30px; font-family: 'DejaVu Sans', 'Bitstream Vera Sans', 'Computer Modern Sans Serif', 'Lucida Grande', 'Verdana', 'Geneva', 'Lucid', 'Arial', 'Helvetica', 'Avant Garde', sans-serif; text-anchor: start; fill: #808080; opacity: 0.085" x="434.52" y="116.278125" transform="rotate(-0 434.52 116.278125)">MagicalPrediction.com</text>
</g>
<g id="text_33">
<text style="font-size: 30px; font-family: 'DejaVu Sans', 'Bitstream Vera Sans', 'Computer Modern Sans Serif', 'Lucida Grande', 'Verdana', 'Geneva', 'Lucid', 'Arial', 'Helvetica', 'Avant Garde', sans-serif; text-anchor: start; fill: #808080; opacity: 0.085" x="94.32" y="224.278125" transform="rotate(-0 94.32 224.278125)">MagicalAnalysis.com</text>
</g>
<g id="text_34">
<text style="font-size: 30px; font-family: 'DejaVu Sans', 'Bitstream Vera Sans', 'Computer Modern Sans Serif', 'Lucida Grande', 'Verdana', 'Geneva', 'Lucid', 'Arial', 'Helvetica', 'Avant Garde', sans-serif; text-anchor: start; fill: #808080; opacity: 0.085" x="434.52" y="224.278125" transform="rotate(-0 434.52 224.278125)">MagicalPrediction.com</text>
</g>
<g id="text_35">
<text style="font-size: 30px; font-family: 'DejaVu Sans', 'Bitstream Vera Sans', 'Computer Modern Sans Serif', 'Lucida Grande', 'Verdana', 'Geneva', 'Lucid', 'Arial', 'Helvetica', 'Avant Garde', sans-serif; text-anchor: start; fill: #808080; opacity: 0.085" x="93.96" y="332.278125" transform="rotate(-0 93.96 332.278125)">MagicalAnalysis.com</text>
</g>
</g>
<defs>
<clipPath id="pc2d2b2b4d8">
<rect x="57.24" y="50.04" width="796.32" height="211.5"/>
</clipPath>
<clipPath id="pe0ad8a3c0b">
<rect x="57.24" y="320.04" width="796.32" height="70.38"/>
</clipPath>
</defs>
</svg>
</body></html>
